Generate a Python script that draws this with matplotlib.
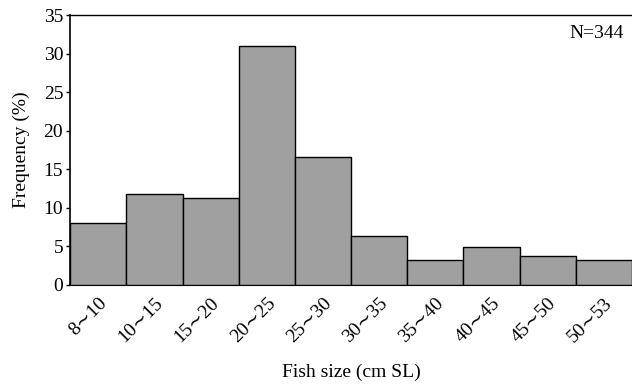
import matplotlib
matplotlib.use("Agg")
import matplotlib.pyplot as plt
import numpy as np

# data
size_classes = ["8∼10", "10∼15", "15∼20", "20∼25", "25∼30",
                "30∼35", "35∼40", "40∼45", "45∼50", "50∼53"]
frequency = [8.0, 11.8, 11.3, 31.0, 16.6, 6.4, 3.2, 4.9, 3.8, 3.2]

plt.rcParams.update({
    "font.family": ["Liberation Serif", "DejaVu Serif"],
    "font.size": 13,
})

fig = plt.figure(figsize=(6.32, 3.87), dpi=100)
ax = fig.add_axes([0.111, 0.264, 0.889, 0.697])

x = np.arange(len(size_classes))
ax.bar(x, frequency, width=1.0, color="#a0a0a0", edgecolor="black", linewidth=1.0, zorder=3)

ax.set_xlim(-0.5, len(size_classes) - 0.5)
ax.set_ylim(0, 35)
ax.set_yticks(np.arange(0, 36, 5))
ax.set_xticks(x)
ax.set_xticklabels(size_classes, rotation=45, ha="right", rotation_mode="anchor", fontsize=14)
ax.tick_params(axis="x", length=0, pad=7)
ax.tick_params(axis="y", length=3, width=1, pad=2, labelsize=14)

ax.spines["right"].set_visible(False)
ax.spines["bottom"].set_linewidth(1.5)
ax.spines["left"].set_linewidth(1.2)
ax.spines["top"].set_linewidth(1.0)

ax.set_ylabel("Frequency (%)", fontsize=14, labelpad=10)
ax.set_xlabel("Fish size (cm SL)", fontsize=14, labelpad=13)
ax.text(0.985, 0.93, "N=344", transform=ax.transAxes, ha="right", va="center", fontsize=14)

fig.savefig("out.png", dpi=100)
